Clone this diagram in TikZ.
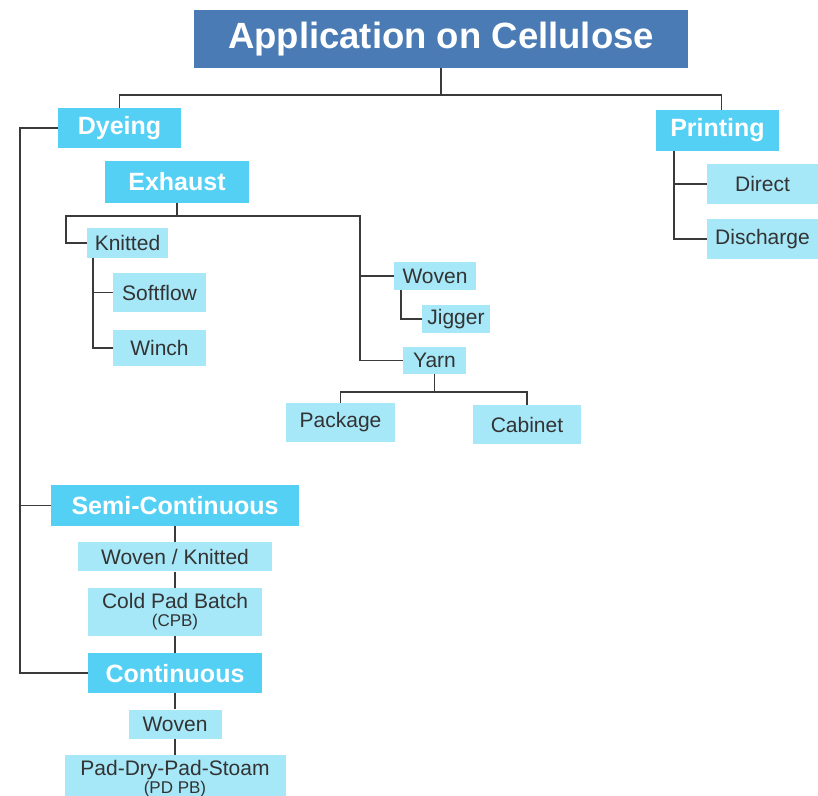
\documentclass[tikz,border=0pt]{standalone}
\usepackage{fontspec}
\setmainfont{Liberation Sans}
\usetikzlibrary{positioning}
\definecolor{titleblue}{HTML}{4A7BB5}
\definecolor{headcyan}{HTML}{55D0F5}
\definecolor{subcyan}{HTML}{A6E7F8}
\definecolor{linegray}{HTML}{3A3A3A}
\definecolor{textgray}{HTML}{333333}

\begin{document}
\begin{tikzpicture}[x=1pt, y=-1pt,
    titlebox/.style = {fill=titleblue, text=white, inner sep=0pt, font=\bfseries\fontsize{36.5}{40}\selectfont},
    headbox/.style = {fill=headcyan, text=white, inner sep=0pt, font=\bfseries\fontsize{25}{28}\selectfont},
    subbox/.style = {fill=subcyan, text=textgray, inner sep=0pt, align=center, font=\fontsize{21}{18}\selectfont},
    link/.style = {draw=linegray, line width=1.5pt}]
  \useasboundingbox (0,0) rectangle (818,795);

  \node[titlebox, minimum width=494pt, minimum height=58pt] (ttl) at (441,39) {Application on Cellulose};
  \node[headbox, minimum width=123pt, minimum height=40pt] (dye) at (119.5,128) {Dyeing};
  \node[headbox, minimum width=123pt, minimum height=41pt] (prt) at (717.5,130.5) {Printing};
  \node[subbox, minimum width=111pt, minimum height=40pt] (dir) at (762.5,184) {Direct};
  \node[subbox, minimum width=111pt, minimum height=40pt] (dis) at (762.5,239) {Discharge};

  % exhaust branch
  \node[headbox, minimum width=144pt, minimum height=42pt] (exh) at (177,182) {Exhaust};
  \node[subbox, minimum width=81pt, minimum height=30pt] (knit) at (127.5,243) {Knitted};
  \node[subbox, minimum width=93pt, minimum height=39pt] (soft) at (159.5,292.5) {Softflow};
  \node[subbox, minimum width=93pt, minimum height=36pt] (winch) at (159.5,348) {Winch};
  \node[subbox, minimum width=82pt, minimum height=28pt] (wov) at (435,276) {Woven};
  \node[subbox, minimum width=68pt, minimum height=28pt] (jig) at (456,319) {Jigger};
  \node[subbox, minimum width=63pt, minimum height=27pt] (yarn) at (434.5,360.5) {Yarn};
  \node[subbox, minimum width=109pt, minimum height=39pt] (pack) at (340.5,422.5) {Package};
  \node[subbox, minimum width=108pt, minimum height=39pt] (cab) at (527,424.5) {Cabinet};

  % semi-continuous and continuous
  \node[headbox, minimum width=248pt, minimum height=41pt] (semi) at (175,505.5) {Semi-Continuous};
  \node[subbox, minimum width=194pt, minimum height=29pt, below=16pt of semi] (wk) {Woven / Knitted};
  \node[subbox, minimum width=174pt, minimum height=48pt, below=16pt of wk] (cpb) {Cold Pad Batch\\{\fontsize{17}{17}\selectfont (CPB)}};
  \node[headbox, minimum width=174pt, minimum height=40pt, below=17pt of cpb] (cont) {Continuous};
  \node[subbox, minimum width=93pt, minimum height=29pt, below=16pt of cont] (wov2) {Woven};
  \node[subbox, minimum width=221pt, minimum height=48pt, below=16pt of wov2] (pdps) {Pad-Dry-Pad-Stoam\\{\fontsize{17}{17}\selectfont (PD PB)}};

  \coordinate (top) at (441,95);
  \coordinate (ltop) at (20,128);
  \coordinate (kbar) at (66,216);
  \coordinate (ybar) at (360,216);
  \coordinate (kv) at ([xshift=6pt]knit.south west);
  \coordinate (yb) at ([yshift=-18pt]yarn.south);
  \coordinate (pv) at ([xshift=18pt]prt.south west);

  \draw[link] (ttl) -- (top);
  \draw[link] (dye.north) -- (dye.north |- top) -- ([xshift=4pt]prt.north |- top) -- ([xshift=4pt]prt.north);
  \draw[link] (dye.west) -- (ltop) |- (cont.west);
  \draw[link] (semi.west) -- (semi.west -| ltop);
  \draw[link] (exh.south) -- (exh.south |- kbar);
  \draw[link] (knit.west) -| (kbar) -- (ybar) |- (yarn.west);
  \draw[link] (wov.west) -- (wov.west -| ybar);
  \draw[link] (kv) |- (winch.west);
  \draw[link] (kv |- soft.west) -- (soft.west);
  \draw[link] ([xshift=7pt]wov.south west) |- (jig.west);
  \draw[link] (yarn.south) -- (yb);
  \draw[link] (pack.north) |- (yb) -| (cab.north);
  \draw[link] (pv) |- (dis.west);
  \draw[link] (pv |- dir.west) -- (dir.west);
  \draw[link] (semi) -- (wk) -- (cpb) -- (cont) -- (wov2) -- (pdps);
\end{tikzpicture}
\end{document}
